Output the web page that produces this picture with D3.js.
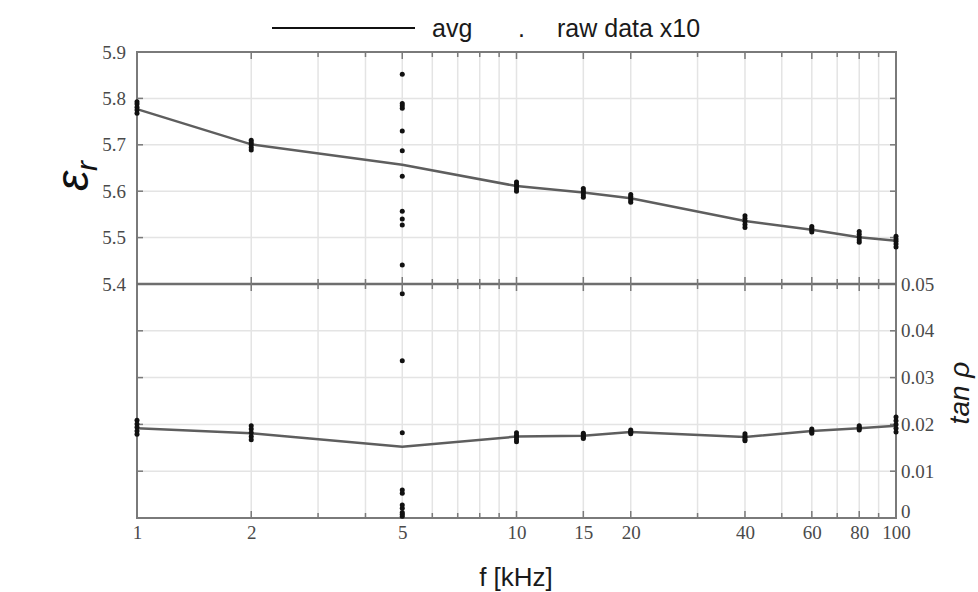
<!DOCTYPE html>
<html><head><meta charset="utf-8">
<script src="https://cdn.jsdelivr.net/npm/d3@7"></script>
<style>body{margin:0;background:#fff;}svg{display:block;}</style>
</head><body>
<svg id="chart" width="978" height="592"></svg>
<script>
// ---- data ----
const freqs = [1, 2, 5, 10, 15, 20, 40, 60, 80, 100];
const epsAvg = [5.777, 5.701, 5.657, 5.611, 5.597, 5.585, 5.536, 5.517, 5.501, 5.493];
const tanAvg = [0.0192, 0.0181, 0.0152, 0.0174, 0.0176, 0.0184, 0.0173, 0.0186, 0.0192, 0.0197];
const epsRaw = [
  [5.793, 5.788, 5.781, 5.775, 5.768],
  [5.710, 5.705, 5.700, 5.694, 5.689],
  [5.852, 5.789, 5.784, 5.779, 5.730, 5.687, 5.632, 5.557, 5.540, 5.527, 5.441],
  [5.620, 5.615, 5.610, 5.605, 5.600],
  [5.606, 5.601, 5.597, 5.592, 5.587],
  [5.593, 5.589, 5.585, 5.580, 5.576],
  [5.547, 5.541, 5.535, 5.528, 5.522],
  [5.524, 5.520, 5.516, 5.512],
  [5.513, 5.507, 5.501, 5.495, 5.490],
  [5.503, 5.497, 5.492, 5.486, 5.480]
];
const tanRaw = [
  [0.0209, 0.0201, 0.0194, 0.0186, 0.0179],
  [0.0197, 0.0190, 0.0182, 0.0174, 0.0167],
  [0.0479, 0.0336, 0.0182, 0.0060, 0.0053, 0.0028, 0.0021, 0.0012, 0.0008, 0.0004],
  [0.0182, 0.0177, 0.0173, 0.0168, 0.0163],
  [0.0181, 0.0178, 0.0175, 0.0172, 0.0170],
  [0.0188, 0.0185, 0.0183, 0.0180],
  [0.0180, 0.0176, 0.0172, 0.0168, 0.0165],
  [0.0190, 0.0187, 0.0184, 0.0181],
  [0.0197, 0.0194, 0.0191, 0.0188],
  [0.0216, 0.0208, 0.0200, 0.0192, 0.0184]
];
const xTickLabels = [1, 2, 5, 10, 15, 20, 40, 60, 80, 100];
const xMinor = [3, 4, 6, 7, 8, 9, 30, 50, 70, 90];
const epsTicks = [5.4, 5.5, 5.6, 5.7, 5.8, 5.9];
const tanTicks = [0, 0.01, 0.02, 0.03, 0.04, 0.05];

// ---- layout ----
const L = 137, R = 896, T = 52, M = 284, B = 518;
const svg = d3.select("#chart");
const x = d3.scaleLog().domain([1, 100]).range([L, R]);
const yE = d3.scaleLinear().domain([5.4, 5.9]).range([M, T]);
const yT = d3.scaleLinear().domain([0, 0.05]).range([B, M]);

const gridCol = "#e4e4e4", axisCol = "#7a7a7a", txtCol = "#4a4a4a";
const allX = xTickLabels.concat(xMinor);

// grid
const grid = svg.append("g").attr("stroke", gridCol).attr("stroke-width", 1.5);
grid.selectAll(".vx").data(allX.filter(d => d > 1 && d < 100)).enter().append("line")
  .attr("x1", d => x(d)).attr("x2", d => x(d)).attr("y1", T).attr("y2", B);
grid.selectAll(".he").data(epsTicks.slice(1, -1)).enter().append("line")
  .attr("x1", L).attr("x2", R).attr("y1", d => yE(d)).attr("y2", d => yE(d));
grid.selectAll(".ht").data(tanTicks.slice(1, -1)).enter().append("line")
  .attr("x1", L).attr("x2", R).attr("y1", d => yT(d)).attr("y2", d => yT(d));

// frame
const frame = svg.append("g").attr("stroke", axisCol).attr("stroke-width", 2).attr("fill", "none");
frame.append("rect").attr("x", L).attr("y", T).attr("width", R - L).attr("height", B - T);
frame.append("line").attr("x1", L).attr("x2", R).attr("y1", M).attr("y2", M).attr("stroke-width", 2.5).attr("stroke", "#6e6e6e");

// x ticks (top, middle, bottom)
const tk = svg.append("g").attr("stroke", axisCol).attr("stroke-width", 1.5);
allX.filter(d => d > 1 && d < 100).forEach(d => {
  const major = xTickLabels.includes(d);
  const len = major ? 7 : 5;
  tk.append("line").attr("x1", x(d)).attr("x2", x(d)).attr("y1", T).attr("y2", T + len);
  tk.append("line").attr("x1", x(d)).attr("x2", x(d)).attr("y1", M - len).attr("y2", M + len);
  tk.append("line").attr("x1", x(d)).attr("x2", x(d)).attr("y1", B).attr("y2", B - len);
});
// y ticks inward on both sides
epsTicks.slice(1, -1).forEach(v => {
  tk.append("line").attr("x1", L).attr("x2", L + 6).attr("y1", yE(v)).attr("y2", yE(v));
  tk.append("line").attr("x1", R).attr("x2", R - 6).attr("y1", yE(v)).attr("y2", yE(v));
});
tanTicks.slice(1, -1).forEach(v => {
  tk.append("line").attr("x1", L).attr("x2", L + 6).attr("y1", yT(v)).attr("y2", yT(v));
  tk.append("line").attr("x1", R).attr("x2", R - 6).attr("y1", yT(v)).attr("y2", yT(v));
});

// axis labels via d3 axes (text only)
const fontSerif = "'Liberation Serif', 'DejaVu Serif', serif";
const axB = svg.append("g").attr("transform", `translate(0,${B})`)
  .call(d3.axisBottom(x).tickValues(xTickLabels).tickFormat(d3.format("d")).tickSize(0).tickPadding(8));
const axL = svg.append("g").attr("transform", `translate(${L},0)`)
  .call(d3.axisLeft(yE).tickValues(epsTicks).tickFormat(d3.format(".1f")).tickSize(0).tickPadding(11));
const axR = svg.append("g").attr("transform", `translate(${R},0)`)
  .call(d3.axisRight(yT).tickValues(tanTicks).tickFormat(d => d === 0 ? "0" : d3.format(".2f")(d)).tickSize(0).tickPadding(5));
[axB, axL, axR].forEach(a => {
  a.select(".domain").remove();
  a.selectAll("text").attr("font-family", fontSerif).attr("font-size", 19).attr("fill", txtCol);
});
axR.selectAll(".tick").filter(d => d === 0).select("text").attr("dy", "-0.05em");

// avg lines
const lineE = d3.line().x((d, i) => x(freqs[i])).y(d => yE(d));
const lineT = d3.line().x((d, i) => x(freqs[i])).y(d => yT(d));
svg.append("path").attr("d", lineE(epsAvg)).attr("fill", "none").attr("stroke", "#5e5e5e").attr("stroke-width", 2.5);
svg.append("path").attr("d", lineT(tanAvg)).attr("fill", "none").attr("stroke", "#5e5e5e").attr("stroke-width", 2.5);

// raw points
const dots = svg.append("g").attr("fill", "#111");
freqs.forEach((f, i) => {
  epsRaw[i].forEach(v => dots.append("circle").attr("cx", x(f)).attr("cy", yE(v)).attr("r", 2.5));
  tanRaw[i].forEach(v => dots.append("circle").attr("cx", x(f)).attr("cy", yT(v)).attr("r", 2.5));
});

// legend
const fontSans = "'Liberation Sans', Arial, sans-serif";
svg.append("line").attr("x1", 272).attr("x2", 415).attr("y1", 28).attr("y2", 28).attr("stroke", "#111").attr("stroke-width", 2.2);
const legTxt = [["avg", 432], [".", 518], ["raw data x10", 557]];
legTxt.forEach(([t, lx]) => {
  svg.append("text").attr("x", lx).attr("y", 37).text(t).attr("font-family", fontSans)
    .attr("font-size", 25).attr("fill", "#1a1a1a");
});

// axis titles
svg.append("text").attr("x", 516).attr("y", 586).attr("text-anchor", "middle").text("f [kHz]")
  .attr("font-family", fontSans).attr("font-size", 26).attr("fill", "#1a1a1a");
const eps = svg.append("text").attr("transform", "translate(88,176) rotate(-90)").attr("text-anchor", "middle")
  .attr("font-family", fontSans).attr("font-style", "italic").attr("fill", "#111");
eps.append("tspan").attr("font-size", 46).text("ε");
eps.append("tspan").attr("font-size", 30).attr("dy", 9).text("r");
svg.append("text").attr("transform", "translate(969,393) rotate(-90)").attr("text-anchor", "middle")
  .attr("font-family", fontSans).attr("font-style", "italic").attr("font-size", 28).attr("fill", "#1a1a1a").text("tan ρ");
</script>
</body></html>
